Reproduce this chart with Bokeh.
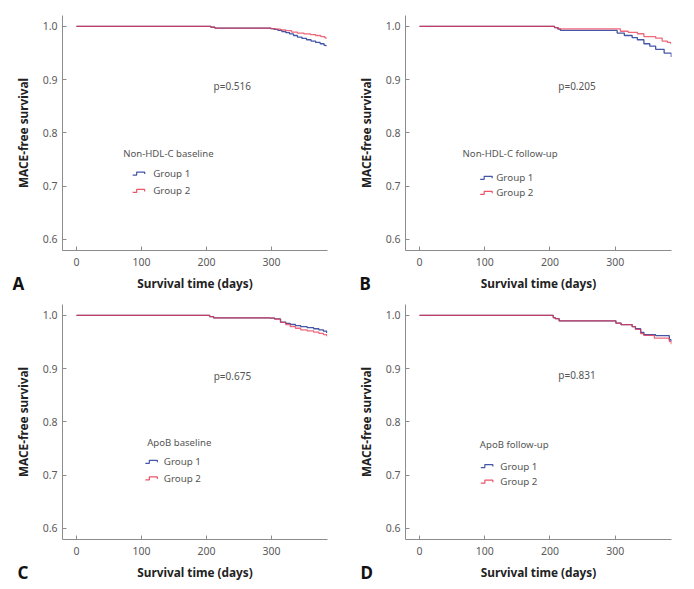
from bokeh.plotting import figure
from bokeh.layouts import gridplot
from bokeh.models import Label, FixedTicker, NumeralTickFormatter, Title
from bokeh.embed import file_html
from bokeh.resources import INLINE

# ---------------- data ----------------
x_ticks = [0, 100, 200, 300]
y_ticks = [0.6, 0.7, 0.8, 0.9, 1.0]
groups = ["Group 1", "Group 2"]
panel_letters = ["A", "B", "C", "D"]
legend_titles = ["Non-HDL-C baseline", "Non-HDL-C follow-up", "ApoB baseline", "ApoB follow-up"]
p_values = ["p=0.516", "p=0.205", "p=0.675", "p=0.831"]

A_g1_t = [0, 207, 213, 299, 304, 310, 316, 322, 328, 334, 340, 347, 354, 361, 368, 375, 381, 384]
A_g1_s = [1.0, 0.9985, 0.9969, 0.9960, 0.9944, 0.9925, 0.9905, 0.9885, 0.9860, 0.9830, 0.9800,
          0.9775, 0.9750, 0.9725, 0.9700, 0.9675, 0.9645, 0.9630]
A_g2_t = [0, 207, 213, 299, 306, 314, 322, 331, 340, 350, 360, 368, 376, 382, 384]
A_g2_s = [1.0, 0.9985, 0.9969, 0.9960, 0.9950, 0.9935, 0.9920, 0.9895, 0.9875, 0.9860, 0.9845,
          0.9830, 0.9810, 0.9790, 0.9770]

B_g1_t = [0, 207, 212, 216, 303, 314, 326, 334, 344, 353, 362, 375, 386]
B_g1_s = [1.0, 0.998, 0.995, 0.9925, 0.9875, 0.983, 0.979, 0.975, 0.9675, 0.963, 0.957, 0.950, 0.9425]
B_g2_t = [0, 207, 213, 308, 320, 334, 344, 362, 372, 380, 385]
B_g2_s = [1.0, 0.998, 0.9956, 0.991, 0.989, 0.9863, 0.981, 0.978, 0.9725, 0.970, 0.9675]

C_g1_t = [0, 205, 211, 298, 305, 314, 322, 329, 337, 345, 355, 365, 373, 380, 385]
C_g1_s = [1.0, 0.998, 0.9956, 0.9950, 0.9935, 0.9875, 0.985, 0.983, 0.981, 0.979, 0.977,
          0.975, 0.973, 0.9706, 0.967]
C_g2_t = [0, 205, 211, 298, 305, 314, 322, 329, 337, 345, 355, 365, 373, 380, 385]
C_g2_s = [1.0, 0.998, 0.9956, 0.9950, 0.9930, 0.9870, 0.983, 0.979, 0.976, 0.973, 0.971,
          0.9687, 0.9665, 0.9640, 0.961]

D_g1_t = [0, 205, 208, 214, 301, 309, 326, 331, 339, 344, 362, 383, 386]
D_g1_s = [1.0, 0.996, 0.994, 0.990, 0.9857, 0.9826, 0.979, 0.975, 0.968, 0.9638, 0.962, 0.9544, 0.951]
D_g2_t = [0, 205, 208, 214, 301, 309, 326, 331, 339, 344, 360, 383, 386]
D_g2_s = [1.0, 0.996, 0.994, 0.990, 0.9857, 0.9826, 0.979, 0.974, 0.966, 0.9625, 0.9576, 0.951, 0.946]

curves = [
    (A_g1_t, A_g1_s, A_g2_t, A_g2_s),
    (B_g1_t, B_g1_s, B_g2_t, B_g2_s),
    (C_g1_t, C_g1_s, C_g2_t, C_g2_s),
    (D_g1_t, D_g1_s, D_g2_t, D_g2_s),
]

# ---------------- styling / layout ----------------
FONT = "Noto Sans"
BLUE = "#4456a6"
RED = "#e8374f"
AXIS_GRAY = "#8c8c8c"
X_RANGE = (-21.5, 386.3)
Y_RANGE = (0.579, 1.0206)

# per panel: width, height, borders (left, right, top, bottom), letter offset
geom = [
    dict(w=347, h=296, l=62, r=20, t=15, b=46, lo=-50),
    dict(w=345, h=296, l=58, r=21, t=15, b=46, lo=-46),
    dict(w=347, h=291, l=62, r=20, t=8, b=48, lo=-45),
    dict(w=345, h=291, l=58, r=21, t=8, b=48, lo=-45),
]
# annotation positions in data units: p-value, legend title, icon x, text x, group y's
annot = [
    dict(p=(211, 0.8875), lt=(71.8, 0.7613), ix=86.5, tx=118.0, gy=(0.7235, 0.6910)),
    dict(p=(212.7, 0.8875), lt=(66.0, 0.7613), ix=93.0, tx=117.6, gy=(0.7156, 0.6874)),
    dict(p=(211.2, 0.886), lt=(108.8, 0.7606), ix=106.0, tx=134.3, gy=(0.7250, 0.6938)),
    dict(p=(212.7, 0.8875), lt=(92.5, 0.7576), ix=94.0, tx=123.8, gy=(0.7169, 0.6876)),
]


def make_panel(i):
    g = geom[i]
    a = annot[i]
    t1, s1, t2, s2 = curves[i]
    p = figure(width=g["w"], height=g["h"], x_range=X_RANGE, y_range=Y_RANGE,
               output_backend="svg", toolbar_location=None,
               min_border_left=g["l"], min_border_right=g["r"],
               min_border_top=g["t"], min_border_bottom=g["b"])
    p.outline_line_color = None
    p.background_fill_color = "white"
    p.border_fill_color = "white"
    p.xgrid.visible = False
    p.ygrid.visible = False

    for ax in (p.xaxis[0], p.yaxis[0]):
        ax.axis_line_color = AXIS_GRAY
        ax.axis_line_width = 1
        ax.major_tick_line_color = AXIS_GRAY
        ax.major_tick_in = 4
        ax.major_tick_out = 0
        ax.minor_tick_line_color = None
        ax.major_label_text_font = FONT
        ax.major_label_text_font_size = "10.5px"
        ax.major_label_text_color = "#5a5a5a"
        ax.axis_label_text_font = FONT
        ax.axis_label_text_font_size = "11.8px"
        ax.axis_label_text_font_style = "bold"
        ax.axis_label_text_color = "#222222"

    p.xaxis.ticker = FixedTicker(ticks=x_ticks)
    p.yaxis.ticker = FixedTicker(ticks=y_ticks)
    p.yaxis.formatter = NumeralTickFormatter(format="0.0")
    p.xaxis.axis_label = "Survival time (days)"
    p.yaxis.axis_label = "MACE-free survival"
    p.xaxis.major_label_standoff = 7
    p.xaxis.axis_label_standoff = 6
    p.yaxis.major_label_standoff = 5
    p.yaxis.axis_label_standoff = 9

    # survival curves
    p.step(t1, s1, mode="after", line_color=BLUE, line_width=1.3)
    p.step(t2, s2, mode="after", line_color=RED, line_width=1.3, line_alpha=0.75)

    # p-value
    p.add_layout(Label(x=a["p"][0], y=a["p"][1], text=p_values[i], text_font=FONT,
                       text_font_size="10px", text_color="#555555", text_baseline="middle"))
    # legend title
    p.add_layout(Label(x=a["lt"][0], y=a["lt"][1], text=legend_titles[i], text_font=FONT,
                       text_font_size="9.6px", text_color="#555555", text_baseline="middle"))

    # legend icons (small step shapes) and labels
    dxp = (X_RANGE[1] - X_RANGE[0]) / (g["w"] - g["l"] - g["r"])   # days per px
    dyp = (Y_RANGE[1] - Y_RANGE[0]) / (g["h"] - g["t"] - g["b"])   # surv per px
    for k, (col, alpha) in enumerate([(BLUE, 1.0), (RED, 0.85)]):
        x0 = a["ix"]
        y0 = a["gy"][k]
        xs = [x0, x0 + 4 * dxp, x0 + 4 * dxp, x0 + 12 * dxp, x0 + 12 * dxp]
        ys = [y0 - 1.5 * dyp, y0 - 1.5 * dyp, y0 + 1.5 * dyp, y0 + 1.5 * dyp, y0 - 0.5 * dyp]
        p.line(xs, ys, line_color=col, line_width=1.2, line_alpha=alpha)
        p.add_layout(Label(x=a["tx"], y=y0, text=groups[k], text_font=FONT,
                           text_font_size="9.8px", text_color="#555555", text_baseline="middle"))

    # panel letter: a left-aligned title in the bottom side panel, pulled up beside the axis title
    p.add_layout(Title(text=panel_letters[i], align="left", offset=g["lo"], standoff=-44,
                       vertical_align="top", text_font=FONT, text_font_size="17px",
                       text_font_style="bold", text_color="#111111"), "below")
    return p


panels = [make_panel(i) for i in range(4)]
grid = gridplot([[panels[0], panels[1]], [panels[2], panels[3]]], toolbar_location=None)

open("out.html", "w").write(file_html(grid, INLINE))
